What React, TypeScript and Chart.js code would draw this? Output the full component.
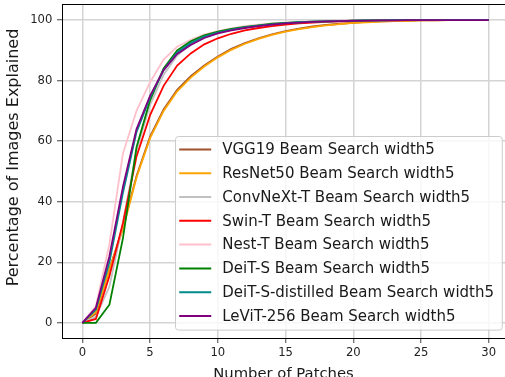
import { useEffect, useRef } from "react";
import { Chart, registerables } from "chart.js";

Chart.register(...registerables);

// Number of patches revealed (x axis)
const patchCounts = [
  0, 1, 2, 3, 4, 5, 6, 7, 8, 9, 10, 11, 12, 13, 14, 15, 16, 17, 18, 19, 20,
  21, 22, 23, 24, 25, 26, 27, 28, 29, 30,
];

// Cumulative percentage of images explained, one list per backbone
const vgg19 = [
  0, 3.0, 17.8, 31.5, 48.5, 61.5, 70.5, 77.0, 81.5, 85.0, 88.0, 90.5, 92.4,
  94.0, 95.3, 96.4, 97.2, 97.9, 98.4, 98.8, 99.1, 99.4, 99.6, 99.7, 99.8,
  99.9, 99.9, 100, 100, 100, 100,
];
const resnet50 = [
  0, 3.5, 17.5, 31.0, 48.0, 61.0, 70.0, 76.5, 81.0, 84.7, 87.7, 90.2, 92.2,
  93.8, 95.1, 96.2, 97.0, 97.7, 98.3, 98.7, 99.1, 99.3, 99.5, 99.7, 99.8,
  99.9, 99.9, 100, 100, 100, 100,
];
const convnextT = [
  0, 2.0, 12.0, 33.0, 57.0, 72.0, 82.0, 88.3, 92.0, 94.3, 95.8, 96.9, 97.6,
  98.2, 98.6, 99.0, 99.2, 99.4, 99.6, 99.7, 99.8, 99.85, 99.9, 99.9, 100,
  100, 100, 100, 100, 100, 100,
];
const swinT = [
  0, 1.3, 15.5, 33.0, 55.0, 68.6, 78.3, 85.0, 89.0, 92.0, 94.0, 95.5, 96.6,
  97.4, 98.0, 98.5, 98.9, 99.2, 99.4, 99.6, 99.7, 99.8, 99.9, 99.9, 100, 100,
  100, 100, 100, 100, 100,
];
const nestT = [
  0, 5.5, 26.0, 56.0, 70.0, 79.5, 87.0, 91.2, 93.5, 95.2, 96.4, 97.3, 98.0,
  98.5, 98.9, 99.2, 99.4, 99.6, 99.7, 99.8, 99.85, 99.9, 99.9, 100, 100, 100,
  100, 100, 100, 100, 100,
];
const deitS = [
  0, 0, 6.0, 28.0, 58.0, 73.5, 84.0, 90.0, 93.0, 95.0, 96.2, 97.1, 97.8, 98.3,
  98.8, 99.1, 99.3, 99.5, 99.6, 99.7, 99.8, 99.9, 99.9, 100, 100, 100, 100,
  100, 100, 100, 100,
];
const deitSDistilled = [
  0, 4.3, 20.0, 43.0, 63.0, 74.5, 83.5, 89.3, 92.4, 94.6, 95.9, 96.9, 97.6,
  98.2, 98.6, 99.0, 99.3, 99.5, 99.6, 99.7, 99.8, 99.9, 99.9, 100, 100, 100,
  100, 100, 100, 100, 100,
];
const levit256 = [
  0, 5.0, 22.0, 45.0, 64.0, 75.0, 83.5, 88.8, 91.8, 94.1, 95.6, 96.6, 97.4,
  98.0, 98.5, 98.9, 99.2, 99.4, 99.6, 99.7, 99.8, 99.85, 99.9, 99.9, 100, 100,
  100, 100, 100, 100, 100,
];

const seriesLabels = [
  "VGG19 Beam Search width5",
  "ResNet50 Beam Search width5",
  "ConvNeXt-T Beam Search width5",
  "Swin-T Beam Search width5",
  "Nest-T Beam Search width5",
  "DeiT-S Beam Search width5",
  "DeiT-S-distilled Beam Search width5",
  "LeViT-256 Beam Search width5",
];
const seriesValues = [
  vgg19,
  resnet50,
  convnextT,
  swinT,
  nestT,
  deitS,
  deitSDistilled,
  levit256,
];
const seriesColors = [
  "#a0522d",
  "#ffa500",
  "#c0c0c0",
  "#ff0000",
  "#ffc0cb",
  "#008000",
  "#008b8b",
  "#800080",
];

const xTickValues = [0, 5, 10, 15, 20, 25, 30];
const yTickValues = [0, 20, 40, 60, 80, 100];

const xTitle = "Number of Patches";
const yTitle = "Percentage of Images Explained";

const FONT = '"DejaVu Sans", sans-serif';

// Top spine, y-axis title and a framed legend in the lower-right of the plot
const framePlugin = {
  id: "frameAndLegend",
  afterDraw(chart: any) {
    const { ctx, chartArea } = chart;
    ctx.save();
    ctx.strokeStyle = "#000";
    ctx.lineWidth = 1;
    ctx.beginPath();
    ctx.moveTo(chartArea.left, Math.round(chartArea.top) - 0.5);
    ctx.lineTo(chartArea.right, Math.round(chartArea.top) - 0.5);
    ctx.stroke();

    // rotated y-axis title
    ctx.save();
    ctx.translate(14.3, (chartArea.top + chartArea.bottom) / 2 - 14);
    ctx.rotate(-Math.PI / 2);
    ctx.font = `16px ${FONT}`;
    ctx.fillStyle = "#1a1a1a";
    ctx.textAlign = "center";
    ctx.textBaseline = "middle";
    ctx.fillText(yTitle, 0, 0);
    ctx.restore();

    ctx.font = `15px ${FONT}`;
    const datasets = chart.data.datasets;
    const textW = Math.max(
      ...datasets.map((d: any) => ctx.measureText(d.label).width)
    );
    const rowH = 23.8;
    const padL = 4;
    const handleW = 32;
    const gap = 11;
    const padR = 8;
    const padT = 13;
    const padB = 14;
    const right = chartArea.right - 3;
    const bottom = chartArea.bottom - 8;
    const width = padL + handleW + gap + textW + padR;
    const height = padT + padB + rowH * (datasets.length - 1);
    const left = right - width;
    const top = bottom - height;

    ctx.beginPath();
    ctx.roundRect(Math.round(left) + 0.5, Math.round(top) + 0.5, width, height, 3);
    ctx.fillStyle = "rgba(255,255,255,0.8)";
    ctx.fill();
    ctx.strokeStyle = "#cccccc";
    ctx.stroke();

    datasets.forEach((ds: any, i: number) => {
      const y = top + padT + i * rowH;
      ctx.strokeStyle = ds.borderColor;
      ctx.lineWidth = 2;
      ctx.beginPath();
      ctx.moveTo(left + padL, y);
      ctx.lineTo(left + padL + handleW, y);
      ctx.stroke();
      ctx.fillStyle = "#1a1a1a";
      ctx.textAlign = "left";
      ctx.textBaseline = "middle";
      ctx.fillText(ds.label, left + padL + handleW + gap, y + 1);
    });
    ctx.restore();
  },
};

export default function App() {
  const canvasRef = useRef<HTMLCanvasElement | null>(null);

  useEffect(() => {
    document.body.style.margin = "0";
    const canvas = canvasRef.current;
    if (!canvas) return;

    const n = seriesLabels.length;
    const chart = new Chart(canvas, {
      type: "line",
      data: {
        datasets: seriesLabels.map((label, i) => ({
          label,
          data: patchCounts.map((x, j) => ({ x, y: seriesValues[i][j] })),
          borderColor: seriesColors[i],
          backgroundColor: seriesColors[i],
          borderWidth: 1.8,
          pointRadius: 0,
          tension: 0,
          fill: false,
          // later series are painted over earlier ones
          order: n - i,
        })),
      },
      options: {
        animation: false,
        responsive: false,
        devicePixelRatio: 1,
        layout: { padding: { top: 5, left: 0, right: 0, bottom: 0 } },
        plugins: {
          legend: { display: false },
          tooltip: { enabled: false },
        },
        scales: {
          x: {
            type: "linear",
            min: -1.5,
            max: 31.2,
            afterBuildTicks: (s: any) => {
              s.ticks = xTickValues.map((value) => ({ value }));
            },
            afterFit: (s: any) => {
              s.height = 39;
              s.paddingLeft = 0;
              s.paddingRight = 0;
            },
            ticks: {
              font: { family: FONT, size: 11.6 },
              color: "#222",
              padding: 3.5,
              maxRotation: 0,
            },
            grid: {
              color: "#d4d4d4",
              lineWidth: 1.5,
              tickLength: 5,
              tickColor: "#444",
              tickWidth: 1,
            },
            border: { color: "#000", width: 1 },
            title: {
              display: true,
              text: xTitle,
              font: { family: FONT, size: 14.8 },
              color: "#1a1a1a",
              padding: { top: 0, bottom: -6 },
            },
          },
          y: {
            type: "linear",
            min: -5,
            max: 105,
            afterBuildTicks: (s: any) => {
              s.ticks = yTickValues.map((value) => ({ value }));
            },
            afterFit: (s: any) => {
              s.width = 62;
              s.paddingTop = 0;
              s.paddingBottom = 0;
            },
            ticks: {
              font: { family: FONT, size: 11.6 },
              color: "#222",
              padding: 4.7,
            },
            grid: {
              color: "#d4d4d4",
              lineWidth: 1.5,
              tickLength: 5,
              tickColor: "#444",
              tickWidth: 1,
            },
            border: { color: "#000", width: 1 },
          },
        },
      },
      plugins: [framePlugin],
    });

    return () => chart.destroy();
  }, []);

  return (
    <div style={{ position: "fixed", left: 0, top: 0, width: 505, height: 377 }}>
      <canvas ref={canvasRef} width={505} height={377} />
    </div>
  );
}
